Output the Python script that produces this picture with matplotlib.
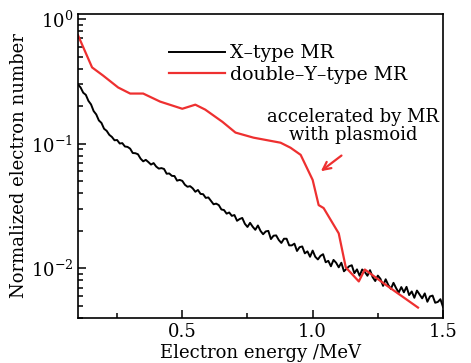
import numpy as np
import matplotlib
matplotlib.use("Agg")
import matplotlib.pyplot as plt
from matplotlib.ticker import LogLocator, MultipleLocator, NullFormatter

plt.rcParams['font.family'] = ['DejaVu Serif']
plt.rcParams['mathtext.fontset'] = 'dejavuserif'

# X-type MR spectrum (energy grid 0.10..1.50 MeV, step 0.01)
x_energy = np.round(np.arange(0.10, 1.5001, 0.01), 2)
x_type = [
    0.299, 0.283, 0.257, 0.247, 0.221, 0.207, 0.183, 0.172, 0.154, 0.147,
    0.132, 0.127, 0.118, 0.1135, 0.1067, 0.1072, 0.1005, 0.1012, 0.0951, 0.0944,
    0.0914, 0.0843, 0.0840, 0.0824, 0.0760, 0.0723, 0.0743, 0.0713, 0.0681, 0.0700,
    0.0656, 0.0632, 0.0638, 0.0628, 0.0575, 0.0578, 0.0553, 0.0551, 0.0506, 0.0513,
    0.0504, 0.0469, 0.0452, 0.0457, 0.0439, 0.0412, 0.0426, 0.0396, 0.0394, 0.0368,
    0.0371, 0.0348, 0.0327, 0.0331, 0.0322, 0.0297, 0.0294, 0.0275, 0.0281, 0.0264,
    0.0268, 0.0241, 0.0249, 0.0254, 0.0228, 0.0215, 0.0232, 0.0216, 0.0204, 0.0221,
    0.0200, 0.0188, 0.0198, 0.0200, 0.0172, 0.0183, 0.0184, 0.0169, 0.0160, 0.0173,
    0.0173, 0.0153, 0.0153, 0.0158, 0.0138, 0.0148, 0.0150, 0.0132, 0.0137, 0.0124,
    0.0139, 0.0124, 0.0118, 0.0126, 0.0130, 0.0112, 0.0115, 0.0104, 0.0117, 0.0111,
    0.0102, 0.0111, 0.00948, 0.00993, 0.0104, 0.0106, 0.00916, 0.00982, 0.00873, 0.00980,
    0.00936, 0.00873, 0.00968, 0.00851, 0.00792, 0.00875, 0.00824, 0.00724, 0.00818, 0.00736,
    0.00685, 0.00766, 0.00695, 0.00640, 0.00708, 0.00643, 0.00711, 0.00611, 0.00653, 0.00581,
    0.00664, 0.00618, 0.00575, 0.00630, 0.00540, 0.00596, 0.00605, 0.00530, 0.00538, 0.00566,
    0.00490,
]

# double-Y-type MR spectrum
y_energy = [0.10, 0.154, 0.196, 0.254, 0.30, 0.35, 0.415, 0.50, 0.55, 0.588, 0.654,
            0.704, 0.773, 0.877, 0.915, 0.954, 1.0, 1.023, 1.042, 1.10, 1.127, 1.177,
            1.20, 1.273, 1.404]
y_type = [0.743, 0.41, 0.353, 0.283, 0.253, 0.253, 0.218, 0.191, 0.206, 0.188, 0.150,
          0.123, 0.112, 0.102, 0.093, 0.0815, 0.0513, 0.0322, 0.0305, 0.0191, 0.0102,
          0.00786, 0.0098, 0.00757, 0.00485]

labels = ['X\u2013type MR', 'double\u2013Y\u2013type MR']
annot_text = 'accelerated by MR\nwith plasmoid'

red = '#ee3030'

fig = plt.figure(figsize=(4.71, 3.63), dpi=100)
ax = fig.add_axes([0.1656, 0.124, 0.775, 0.8374])

ax.plot(x_energy, x_type, color='black', lw=1.4, label=labels[0])
ax.plot(y_energy, y_type, color=red, lw=1.6, label=labels[1])

ax.set_yscale('log')
ax.set_xlim(0.1, 1.5)
ax.set_ylim(4.0e-3, 1.1)

ax.xaxis.set_major_locator(MultipleLocator(0.5))
ax.xaxis.set_minor_locator(MultipleLocator(0.25))
ax.yaxis.set_major_locator(LogLocator(base=10, numticks=10))
ax.yaxis.set_minor_locator(LogLocator(base=10, subs=np.arange(2, 10) * 1.0, numticks=20))
ax.yaxis.set_minor_formatter(NullFormatter())

ax.tick_params(which='both', direction='in', top=False, right=False, labelsize=13, width=1.1)
ax.tick_params(which='major', length=6)
ax.tick_params(which='minor', length=3.5)
for s in ax.spines.values():
    s.set_linewidth(1.2)

ax.set_xlabel('Electron energy /MeV', fontsize=13, labelpad=2)
ax.set_ylabel('Normalized electron number', fontsize=13, labelpad=2)

leg = ax.legend(loc='upper left', bbox_to_anchor=(0.228, 0.925), frameon=False,
                fontsize=13.6, handlelength=3.0, handletextpad=0.25, labelspacing=0.18,
                borderaxespad=0)

ax.annotate('', xy=(1.023, 0.0584), xytext=(1.119, 0.083),
            arrowprops=dict(arrowstyle='->', color=red, lw=1.6, mutation_scale=14))
ax.text(1.154, 0.14, annot_text, ha='center', va='center', fontsize=13, linespacing=1.0)

fig.savefig('out.png', dpi=100)
